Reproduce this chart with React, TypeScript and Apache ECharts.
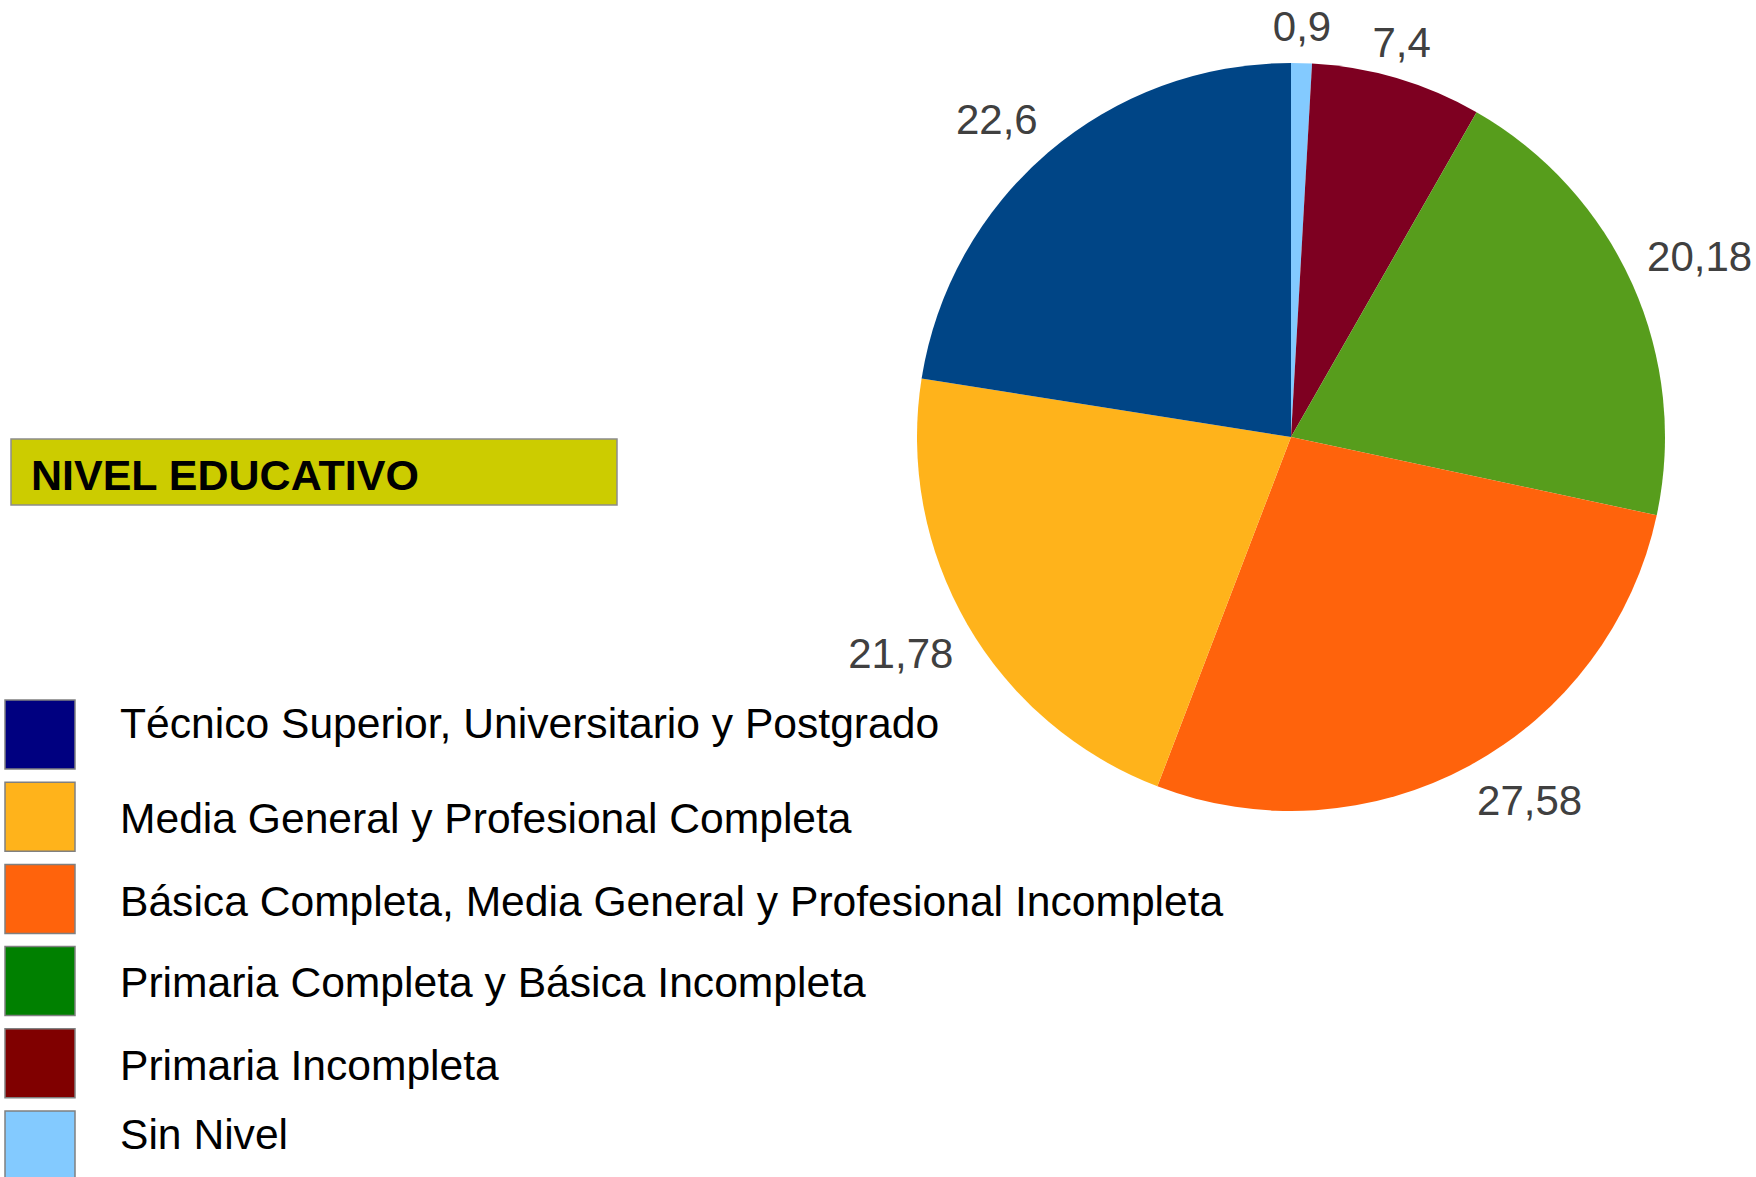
import React, { useEffect, useRef } from 'react';
import * as echarts from 'echarts';

// ---- Data (pie order, clockwise from 12 o'clock) ----
const CATEGORIES = [
  'Sin Nivel',
  'Primaria Incompleta',
  'Primaria Completa y Básica Incompleta',
  'Básica Completa, Media General y Profesional Incompleta',
  'Media General y Profesional Completa',
  'Técnico Superior, Universitario y Postgrado',
];
const VALUES = [0.9, 7.4, 20.18, 27.58, 21.78, 22.6];
const SLICE_COLORS = ['#83caff', '#7e0021', '#579d1c', '#ff630c', '#ffb31b', '#004586'];

// ---- Legend (its own order and colours, as in the reference) ----
const LEGEND_NAMES = [
  'Técnico Superior, Universitario y Postgrado',
  'Media General y Profesional Completa',
  'Básica Completa, Media General y Profesional Incompleta',
  'Primaria Completa y Básica Incompleta',
  'Primaria Incompleta',
  'Sin Nivel',
];
const LEGEND_COLORS = ['#000080', '#ffb31b', '#ff630c', '#008000', '#800000', '#83caff'];
const TITLE = 'NIVEL EDUCATIVO';

// ---- Layout ----
const W = 1756;
const H = 1177;
const FONT = '"Liberation Sans", Arial, sans-serif';
const PIE_CENTER = [1291, 437];
const PIE_R = 374;
const LABEL_OFFSET = 16;
const LEGEND_X = 5;
const LEGEND_TOP = 700;
const SWATCH_W = 70;
const SWATCH_H = 69;
const ROW_STEP = 82.2;
const TEXT_X = 120;
const LEGEND_TEXT_BASELINES = [738, 833, 916, 997, 1080, 1149];
const FS = 42;
const LEGEND_FS = 42.6;
const TITLE_FS = 43;

// label anchor alignment per 45° sector, clockwise from 12 o'clock
const SECTOR_ALIGN: [string, string][] = [
  ['center', 'bottom'],
  ['left', 'bottom'],
  ['left', 'middle'],
  ['left', 'top'],
  ['center', 'top'],
  ['right', 'top'],
  ['right', 'middle'],
  ['right', 'bottom'],
];

export default function App() {
  const ref = useRef<HTMLDivElement>(null);

  useEffect(() => {
    document.body.style.margin = '0';
    if (!ref.current) return;
    const chart = echarts.init(ref.current, null, { renderer: 'svg' });

    const graphics: any[] = [];
    // title box
    graphics.push({
      type: 'rect',
      silent: true,
      shape: { x: 11, y: 439, width: 606, height: 66 },
      style: { fill: '#cccc00', stroke: '#8c8c8c', lineWidth: 1.5 },
    });
    graphics.push({
      type: 'text',
      silent: true,
      x: 31,
      y: 490 - 0.35 * TITLE_FS,
      style: {
        text: TITLE,
        fill: '#000000',
        font: `bold ${TITLE_FS}px ${FONT}`,
        verticalAlign: 'middle',
        align: 'left',
      },
    });
    LEGEND_NAMES.forEach((name, i) => {
      graphics.push({
        type: 'rect',
        silent: true,
        shape: { x: LEGEND_X, y: LEGEND_TOP + i * ROW_STEP, width: SWATCH_W, height: SWATCH_H },
        style: { fill: LEGEND_COLORS[i], stroke: '#808080', lineWidth: 1.5 },
      });
      graphics.push({
        type: 'text',
        silent: true,
        x: TEXT_X,
        y: LEGEND_TEXT_BASELINES[i] - 0.35 * LEGEND_FS,
        style: {
          text: name,
          fill: '#000000',
          font: `${LEGEND_FS}px ${FONT}`,
          verticalAlign: 'middle',
          align: 'left',
        },
      });
    });

    chart.setOption({
      animation: false,
      backgroundColor: '#ffffff',
      textStyle: { fontFamily: FONT },
      graphic: graphics,
      series: [
        {
          type: 'pie',
          center: PIE_CENTER,
          radius: PIE_R,
          startAngle: 90,
          clockwise: true,
          avoidLabelOverlap: false,
          silent: true,
          itemStyle: { borderWidth: 0 },
          label: {
            show: true,
            position: 'outside',
            fontSize: FS,
            fontFamily: FONT,
            color: '#404040',
            formatter: (p: any) => String(p.value).replace('.', ','),
          },
          labelLine: {
            show: true,
            length: 20,
            length2: 0,
            lineStyle: { opacity: 0, width: 0 },
          },
          labelLayout: (p: any) => {
            const pts = p.labelLinePoints;
            if (!pts || pts.length < 2) return {};
            const [x0, y0] = pts[0];
            const [x1, y1] = pts[1];
            let nx = x1 - x0;
            let ny = y1 - y0;
            const len = Math.hypot(nx, ny) || 1;
            nx /= len;
            ny /= len;
            let deg = (Math.atan2(nx, -ny) * 180) / Math.PI;
            if (deg < 0) deg += 360;
            const sector = Math.round(deg / 45) % 8;
            const [align, verticalAlign] = SECTOR_ALIGN[sector];
            return {
              x: x0 + nx * LABEL_OFFSET,
              y: y0 + ny * LABEL_OFFSET,
              align,
              verticalAlign,
            };
          },
          data: CATEGORIES.map((name, i) => ({
            name,
            value: VALUES[i],
            itemStyle: { color: SLICE_COLORS[i] },
          })),
        },
      ],
    });

    return () => chart.dispose();
  }, []);

  return <div ref={ref} style={{ width: W, height: H }} />;
}
